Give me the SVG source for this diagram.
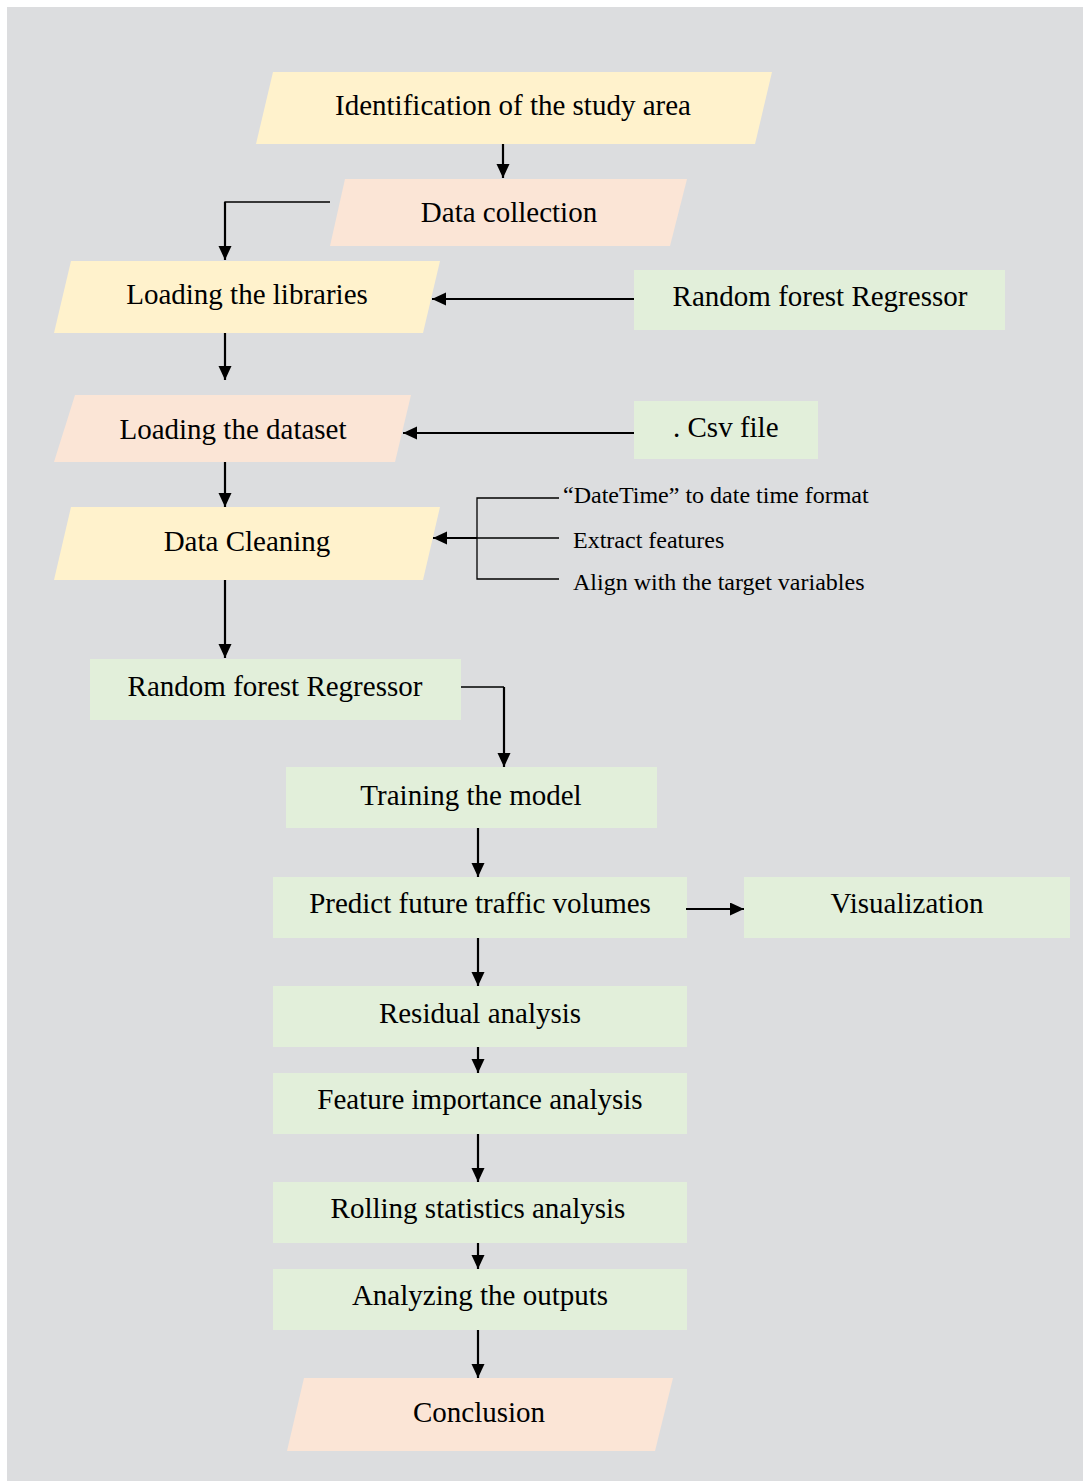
<svg xmlns="http://www.w3.org/2000/svg" width="1083" height="1482" viewBox="0 0 1083 1482">
<style>
.t{font-family:"Liberation Serif","Times New Roman",serif;font-size:29px;fill:#000;text-anchor:middle}
.s{font-family:"Liberation Serif","Times New Roman",serif;font-size:24px;fill:#000}
.y{fill:#FFF2CC}
.p{fill:#FBE5D6}
.g{fill:#E2EFDA}
.a{fill:none;stroke:#000;stroke-width:2.2}
.th{fill:none;stroke:#000;stroke-width:1.3}
</style>
<defs>
<marker id="ah" markerUnits="userSpaceOnUse" markerWidth="16" markerHeight="14" refX="14" refY="6.5" orient="auto">
<path d="M0,0 L14,6.5 L0,13 z" fill="#000"/>
</marker>
</defs>
<rect x="7" y="7" width="1076" height="1474" fill="#DCDDDF"/>

<g id="n1"><polygon class="y" points="273,72 772,72 755,144 256,144"/><text class="t" x="513" y="115">Identification of the study area</text></g>
<g id="n2"><polygon class="p" points="345,179 687,179 670,246 330,246"/><text class="t" x="509" y="222">Data collection</text></g>
<g id="n3"><polygon class="y" points="71,261 440,261 423,333 54,333"/><text class="t" x="247" y="304">Loading the libraries</text></g>
<g id="n4"><rect class="g" x="634" y="270" width="371" height="60"/><text class="t" x="820" y="306">Random forest Regressor</text></g>
<g id="n5"><polygon class="p" points="75,395 411,395 395,462 54,462"/><text class="t" x="233" y="439">Loading the dataset</text></g>
<g id="n6"><rect class="g" x="634" y="401" width="184" height="58"/><text class="t" x="673" y="437" style="text-anchor:start">. Csv file</text></g>
<g id="n7"><polygon class="y" points="71,507 440,507 423,580 54,580"/><text class="t" x="247" y="551">Data Cleaning</text></g>
<g id="n8"><text class="s" x="563" y="503">“DateTime” to date time format</text></g>
<g id="n9"><text class="s" x="573" y="548">Extract features</text></g>
<g id="n10"><text class="s" x="573" y="590">Align with the target variables</text></g>
<g id="n11"><rect class="g" x="90" y="659" width="371" height="61"/><text class="t" x="275" y="696">Random forest Regressor</text></g>
<g id="n12"><rect class="g" x="286" y="767" width="371" height="61"/><text class="t" x="471" y="805">Training the model</text></g>
<g id="n13"><rect class="g" x="273" y="877" width="414" height="61"/><text class="t" x="480" y="913">Predict future traffic volumes</text></g>
<g id="n14"><rect class="g" x="744" y="877" width="326" height="61"/><text class="t" x="907" y="913">Visualization</text></g>
<g id="n15"><rect class="g" x="273" y="986" width="414" height="61"/><text class="t" x="480" y="1023">Residual analysis</text></g>
<g id="n16"><rect class="g" x="273" y="1073" width="414" height="61"/><text class="t" x="480" y="1109">Feature importance analysis</text></g>
<g id="n17"><rect class="g" x="273" y="1182" width="414" height="61"/><text class="t" x="478" y="1218">Rolling statistics analysis</text></g>
<g id="n18"><rect class="g" x="273" y="1269" width="414" height="61"/><text class="t" x="480" y="1305">Analyzing the outputs</text></g>
<g id="n19"><polygon class="p" points="304,1378 673,1378 655,1451 287,1451"/><text class="t" x="479" y="1422">Conclusion</text></g>

<g id="connectors">
<line class="a" x1="503" y1="144" x2="503" y2="178" marker-end="url(#ah)"/>
<polyline class="th" points="330,202 225,202 225,206"/>
<line class="a" x1="225" y1="202" x2="225" y2="260" marker-end="url(#ah)"/>
<line class="a" x1="634" y1="299" x2="432" y2="299" marker-end="url(#ah)"/>
<line class="a" x1="225" y1="333" x2="225" y2="380" marker-end="url(#ah)"/>
<line class="a" x1="634" y1="433" x2="403" y2="433" marker-end="url(#ah)"/>
<line class="a" x1="225" y1="462" x2="225" y2="507" marker-end="url(#ah)"/>
<polyline class="th" points="559,498 477,498 477,579 559,579"/>
<line class="th" x1="477" y1="538" x2="559" y2="538"/>
<line class="a" x1="477" y1="538" x2="433" y2="538" marker-end="url(#ah)"/>
<line class="a" x1="225" y1="580" x2="225" y2="658" marker-end="url(#ah)"/>
<polyline class="th" points="461,687 504,687"/>
<line class="a" x1="504" y1="687" x2="504" y2="767" marker-end="url(#ah)"/>
<line class="a" x1="478" y1="828" x2="478" y2="877" marker-end="url(#ah)"/>
<line class="a" x1="686" y1="909" x2="744" y2="909" marker-end="url(#ah)"/>
<line class="a" x1="478" y1="938" x2="478" y2="986" marker-end="url(#ah)"/>
<line class="a" x1="478" y1="1047" x2="478" y2="1073" marker-end="url(#ah)"/>
<line class="a" x1="478" y1="1134" x2="478" y2="1182" marker-end="url(#ah)"/>
<line class="a" x1="478" y1="1243" x2="478" y2="1269" marker-end="url(#ah)"/>
<line class="a" x1="478" y1="1330" x2="478" y2="1378" marker-end="url(#ah)"/>
</g>
</svg>
